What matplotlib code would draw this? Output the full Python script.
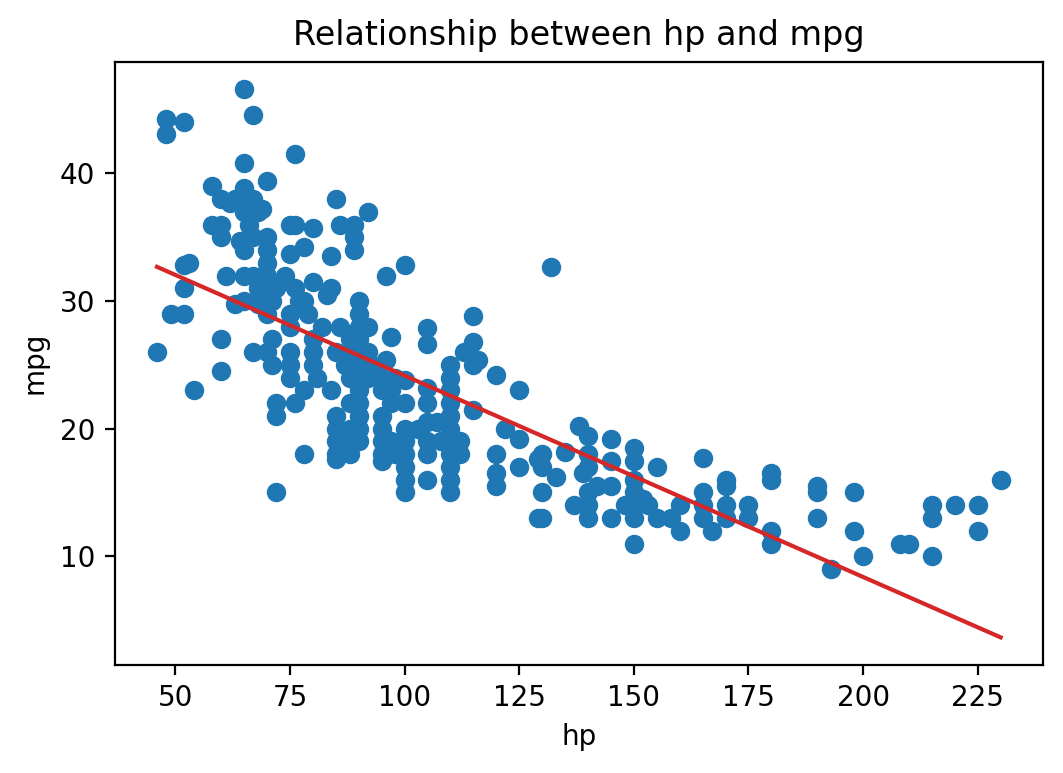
import matplotlib
matplotlib.use("Agg")
import matplotlib.pyplot as plt
import numpy as np

# (hp, mpg) pairs
hp = [46, 48, 48, 49, 52, 52, 52, 52, 53, 54, 58, 58, 60, 60, 60, 60, 60, 61, 62, 63,
      63, 64, 65, 65, 65, 65, 65, 65, 65, 66, 67, 67, 67, 67, 67, 68, 68, 68, 69, 69,
      70, 70, 70, 70, 70, 70, 70, 70, 71, 71, 71, 72, 72, 72, 72, 74, 75, 75, 75, 75,
      75, 75, 75, 76, 76, 76, 76, 77, 78, 78, 78, 78, 79, 80, 80, 80, 80, 80, 81, 82,
      83, 84, 84, 84, 85, 85, 85, 85, 85, 85, 85, 86, 86, 87, 88, 88, 88, 88, 88, 88,
      88, 89, 89, 89, 90, 90, 90, 90, 90, 90, 90, 90, 90, 90, 90, 90, 92, 92, 92, 92,
      93, 95, 95, 95, 95, 95, 95, 95, 96, 96, 97, 97, 97, 97, 98, 98, 100, 100, 100, 100,
      100, 100, 100, 100, 100, 103, 105, 105, 105, 105, 105, 105, 105, 105, 107, 108, 110, 110, 110, 110,
      110, 110, 110, 110, 110, 110, 110, 112, 112, 113, 115, 115, 115, 115, 116, 120, 120, 120, 120, 122,
      125, 125, 125, 129, 129, 130, 130, 130, 130, 132, 133, 135, 137, 138, 139, 140, 140, 140, 140, 140,
      140, 142, 145, 145, 145, 145, 148, 150, 150, 150, 150, 150, 150, 150, 152, 153, 155, 155, 158, 160,
      160, 165, 165, 165, 165, 167, 170, 170, 170, 170, 175, 175, 180, 180, 180, 180, 190, 190, 190, 193,
      198, 198, 200, 208, 210, 215, 215, 215, 220, 225, 225, 230]
mpg = [26, 43.1, 44.3, 29, 44, 31, 29, 32.8, 33, 23, 36, 39, 38, 36, 35, 27, 24.5, 32, 37.7, 29.8,
       38, 34.7, 46.6, 40.8, 34, 37, 32, 30, 38.9, 36, 44.6, 38, 26, 32, 35, 37, 31, 29.8, 32, 37.2,
       39.4, 35, 34, 33, 32, 31, 29, 26, 30, 27, 25, 22, 21, 15, 31, 32, 33.7, 36, 29, 26,
       24, 25, 28, 41.5, 36, 22, 31, 30, 34.2, 23, 18, 30, 29, 35.7, 26, 27, 25, 31.5, 24, 28,
       30.5, 31, 33.5, 23, 38, 26, 21, 20, 19, 18, 17.6, 28, 36, 25, 27, 26, 24, 22, 20, 18,
       19, 36, 35, 34, 30, 29, 28, 27, 26, 25, 24, 23, 22, 21, 20, 19, 37, 28, 26, 24,
       25, 24, 23, 21, 20, 19, 18, 17.5, 32, 25.4, 27.2, 23, 22, 19, 24, 18, 32.8, 23.8, 22, 20,
       19, 18, 17, 16, 15, 20, 27.9, 26.6, 23.2, 22, 20.5, 19, 18, 16, 20.5, 19, 25, 24, 23, 22,
       21, 20, 19, 18, 17, 16, 15, 19, 18, 26, 28.8, 26.8, 25, 21.5, 25.4, 24.2, 18, 16.5, 15.5, 20,
       23, 19.2, 17, 13, 17.6, 18, 15, 13, 17, 32.7, 16.2, 18.2, 14, 20.2, 16.5, 19.4, 18, 17, 15, 14,
       13, 15.5, 19.2, 17.5, 15.5, 13, 14, 18.5, 17.5, 16, 15, 14, 13, 11, 14.5, 14, 17, 13, 13, 14,
       12, 17.7, 15, 14, 13, 12, 16, 15.5, 14, 13, 14, 13, 16.5, 16, 12, 11, 15.5, 15, 13, 9,
       15, 12, 10, 11, 11, 14, 13, 10, 14, 14, 12, 16]

# least-squares line as drawn in the reference
intercept = 39.94
slope = -0.1578

fig = plt.figure(figsize=(5.315, 3.865), dpi=200)
ax = fig.add_axes([0.108, 0.14, 0.873, 0.78])
ax.scatter(hp, mpg)
x = np.array(hp)
ax.plot(x, intercept + slope * x, color="tab:red")
ax.set_title("Relationship between hp and mpg")
ax.set_xlabel("hp")
ax.set_ylabel("mpg")
fig.savefig("out.png", dpi=200)
